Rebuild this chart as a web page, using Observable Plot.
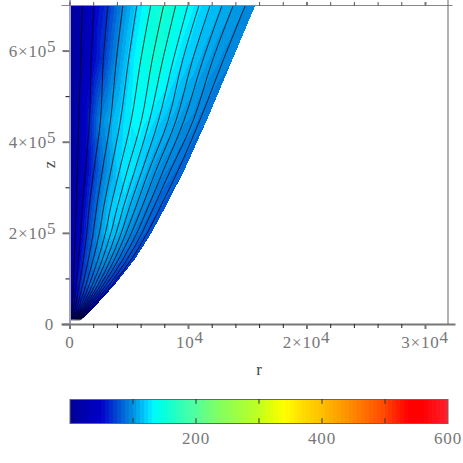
<!DOCTYPE html>
<html>
<head>
<meta charset="utf-8">
<style>html,body{margin:0;padding:0;background:#fff}svg{display:block}svg text{letter-spacing:.8px}</style>
<script src="https://cdn.jsdelivr.net/npm/d3@7"></script>
<script src="https://cdn.jsdelivr.net/npm/@observablehq/plot@0.6"></script>
</head>
<body>
<div id="chart"></div>
<script>
// height samples
const zLevels = [1e4, 2e4, 3.74e4, 8.57e4, 1.41e5, 2e5, 2.57e5, 3.38e5, 4.48e5, 5.8e5, 7e5];
// r of the left boundary, of the 14 contours, and of the right boundary, per height
const rows = [
  [60,120,190,260,330,390,460,520,580,630,680,730,790,840,900,950],
  [60,140,230,330,430,530,620,710,790,870,950,1030,1110,1190,1280,1420],
  [60,180,310,450,590,740,885,1010,1135,1260,1375,1500,1625,1770,1925,2070],
  [60,280,515,780,1065,1335,1600,1860,2090,2335,2555,2775,3010,3270,3530,3755],
  [60,365,715,1120,1535,1935,2340,2705,3055,3400,3725,4050,4420,4780,5130,5440],
  [60,450,900,1420,1950,2470,2980,3440,3880,4320,4720,5170,5630,6060,6500,6880],
  [60,520,1030,1620,2250,2840,3430,3985,4500,5010,5540,6060,6580,7060,7600,8060],
  [60,620,1300,2010,2730,3450,4170,4840,5460,6080,6660,7250,7880,8470,9120,9660],
  [60,740,1645,2575,3420,4260,5165,6030,6710,7470,8280,8950,9620,10400,10950,11560],
  [60,905,1785,2810,3910,4940,5970,6930,7820,8710,9500,10330,11210,12030,12930,13670],
  [60,1030,2030,3210,4460,5630,6810,7900,8920,9940,10880,11820,12830,13770,14790,15650]
];
// field value at the same places
const values = [
  [5,15,22,25,28,30,30,30,28,28,26,25,24,22,20,18],
  [5,25,35,38,40,42,42,42,42,40,40,38,36,35,32,30],
  [5,30,45,50,54,58,60,62,62,60,58,56,54,52,50,46],
  [5,30,50,62,72,78,82,84,84,82,78,74,72,68,64,60],
  [5,25,48,66,80,90,98,102,100,96,92,86,82,78,74,70],
  [5,25,46,68,86,102,115,120,116,110,102,96,90,85,80,75],
  [5,22,45,68,88,106,120,126,122,114,106,99,92,87,82,78],
  [5,20,45,70,90,108,124,131,126,118,110,102,96,92,86,82],
  [5,25,62,95,110,122,132,135,130,122,114,108,102,98,92,88],
  [5,22,46,70,98,122,143,152,148,135,125,118,110,104,98,94],
  [5,22,48,68,98,122,145,160,150,137,127,120,112,106,100,96]
];
// colour bar stops
const stopValues = [0,50,56,72,88,100,112,122,133,143,159,188,200,236,300,331,342,366,390,400,442,500,538,560,600];
const stopColors = ["#000098","#0000c8","#0010cc","#0040d0","#0070d8","#0090e0","#00b0f0","#00d0ff","#00f8ff","#00ffe8","#15ffd0","#45ffa8","#50ffa0","#80ff60","#c0ff20","#f0ff00","#ffff00","#ffe000","#ffc800","#ffc000","#ff9000","#ff4800","#ff0000","#ff0000","#ff2030"];
const bandStep = 6.25;
const barTicks = [100,200,300,400,500];
const barLabels = [200,400,600];
const xTicks = [0,2000,4000,6000,8000,12000,14000,16000,18000,22000,24000,26000,28000];
const xMajor = [0,1e4,2e4,3e4];
const yMinor = [1e5,3e5,5e5];
const yMajor = [0,2e5,4e5,6e5];
const xMax = 31900, zMax = 7e5;

const ramp = d3.scaleLinear().domain(stopValues).range(stopColors);
const thresholds = d3.range(bandStep, 600, bandStep);
const colorOpts = {type:"threshold", domain:thresholds, range:[...thresholds.map(t=>t-bandStep/2), 597].map(v=>ramp(v))};

const samples = rows.flatMap((row,i)=>row.map((r,j)=>({r, z:zLevels[i], v:values[i][j]})));
const contours = rows.flatMap((row,i)=>row.slice(1,15).map((r,j)=>({r, z:zLevels[i], id:j})));

const font = {fontFamily:"Liberation Serif", fontSize:17, fill:"#777", stroke:"none"};
const barycentric = Plot.interpolatorBarycentric();
function masked(index,w,h,X,Y,V){
  const W = barycentric(index,w,h,X,Y,V);
  const pts = Array.from(index, i=>[X[i],Y[i]]);
  const hull = d3.polygonHull(pts);
  for (let y=0,k=0;y<h;y++) for (let x=0;x<w;x++,k++)
    if (!d3.polygonContains(hull,[x+.5,y+.5])) W[k]=NaN;
  return W;
}

const W = 463, H1 = 385;
const main = Plot.plot({
  width:W, height:H1, marginLeft:69.5, marginRight:W-447.5, marginTop:5, marginBottom:H1-324,
  style:{background:"#fff"},
  x:{type:"linear", domain:[0,xMax], axis:null},
  y:{type:"linear", domain:[0,zMax], axis:null},
  color:colorOpts,
  marks:[
    Plot.raster(samples,{x:"r",y:"z",fill:"v",interpolate:masked,pixelSize:1,x1:0,x2:xMax,y1:0,y2:zMax,imageRendering:"pixelated"}),
    Plot.line(contours,{x:"r",y:"z",z:"id",stroke:"#000",strokeWidth:0.75,curve:"catmull-rom"}),
    // frame
    Plot.ruleY([0],{stroke:"#777",strokeWidth:2,insetLeft:-8,insetRight:-8}),
    Plot.ruleY([zMax],{stroke:"#888",strokeWidth:1,insetLeft:-8,insetRight:-5}),
    Plot.ruleX([0],{stroke:"#8080b0",strokeWidth:1.5,insetTop:-5,insetBottom:-5}),
    Plot.ruleX([xMax],{stroke:"#666",strokeWidth:1,insetTop:-5}),
    // x ticks, bottom and top
    Plot.axisX(xTicks,{anchor:"bottom",tickSize:4,stroke:"#222",text:null,label:null}),
    Plot.axisX(xTicks,{anchor:"top",tickSize:4,stroke:"#555",text:null,label:null}),
    Plot.axisX(xMajor,{anchor:"bottom",tickSize:5,stroke:"#777",strokeWidth:2,text:null,label:null}),
    Plot.axisX(xMajor,{anchor:"top",tickSize:4,stroke:"#777",strokeWidth:2,text:null,label:null}),
    // y ticks
    Plot.axisY(yMinor,{anchor:"left",tickSize:4,stroke:"#111",text:null,label:null}),
    Plot.axisY(yMajor,{anchor:"left",tickSize:7,stroke:"#777",strokeWidth:2,text:null,label:null}),
    // x labels
    Plot.text(["0"],{x:()=>0,y:()=>0,text:d=>d,dy:18,textAnchor:"middle",...font}),
    Plot.text(["10"],{x:()=>1e4,y:()=>0,text:d=>d,dy:18,dx:6,textAnchor:"end",...font}),
    Plot.text(["4"],{x:()=>1e4,y:()=>0,text:d=>d,dy:13,dx:6,textAnchor:"start",...font}),
    Plot.text([{v:2e4,t:"2×10"},{v:3e4,t:"3×10"}],{x:"v",y:()=>0,text:"t",dy:18,dx:14,textAnchor:"end",...font}),
    Plot.text([2e4,3e4],{x:d=>d,y:()=>0,text:()=>"4",dy:13,dx:14,textAnchor:"start",...font}),
    // y labels
    Plot.text(["0"],{x:()=>0,y:()=>0,text:d=>d,dx:-16,textAnchor:"end",...font}),
    Plot.text([{v:2e5,t:"2×10"},{v:4e5,t:"4×10"},{v:6e5,t:"6×10"}],{x:()=>0,y:"v",text:"t",dx:-23,textAnchor:"end",...font}),
    Plot.text([2e5,4e5,6e5],{x:()=>0,y:d=>d,text:()=>"5",dx:-23,dy:-5,textAnchor:"start",...font}),
    // axis titles
    Plot.text(["r"],{x:()=>16000,y:()=>0,text:d=>d,dy:45,textAnchor:"middle",...font,fill:"#444"}),
    Plot.text(["z"],{x:()=>0,y:()=>3.52e5,text:d=>d,dx:-20,rotate:-90,textAnchor:"middle",...font,fill:"#444"})
  ]
});

const bands = d3.range(0,600,bandStep).map(a=>({a,b:a+bandStep,v:a+bandStep/2}));
const H2 = 463-H1;
const bar = Plot.plot({
  width:W, height:H2, marginLeft:69.5, marginRight:W-447.5, marginTop:399-H1, marginBottom:463-423,
  style:{background:"#fff"},
  x:{type:"linear", domain:[0,600], axis:null},
  y:{type:"linear", domain:[0,1], axis:null},
  color:colorOpts,
  marks:[
    Plot.rect(bands,{x1:"a",x2:"b",y1:()=>0,y2:()=>1,fill:"v",inset:0,shapeRendering:"crispEdges"}),
    Plot.frame({stroke:"#666",strokeWidth:1}),
    Plot.ruleX(barTicks,{y1:()=>0,y2:()=>0.2,stroke:"#333"}),
    Plot.ruleX(barTicks,{y1:()=>0.8,y2:()=>1,stroke:"#333"}),
    Plot.text(barLabels,{x:d=>d,y:()=>0,text:d=>String(d),dy:15,textAnchor:"middle",...font})
  ]
});
const host = document.getElementById("chart");
host.appendChild(main); host.appendChild(bar);
</script>
</body>
</html>
